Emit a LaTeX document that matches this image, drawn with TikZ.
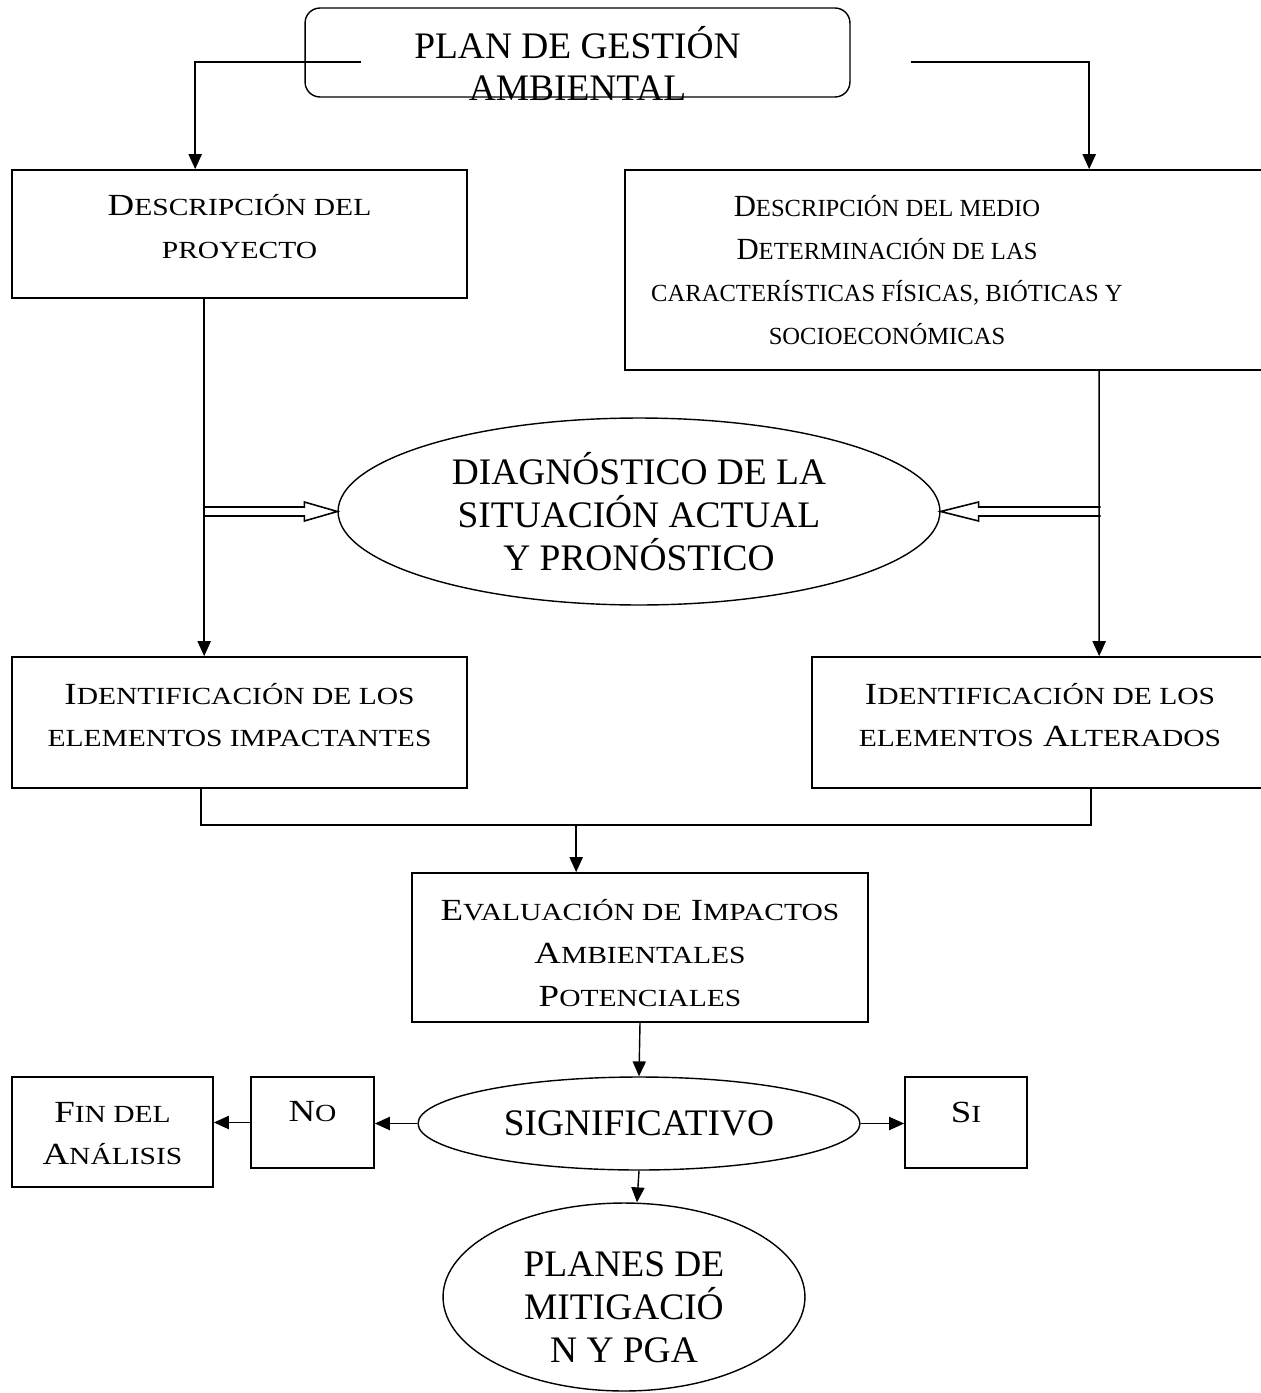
\documentclass[tikz,border=0pt]{standalone}
\usepackage{fontspec}
\setmainfont{Liberation Serif}
\newfontfamily\boxfont[FakeStretch=1.2]{Liberation Serif}
\usetikzlibrary{positioning, arrows.meta, shapes.geometric, calc}
\newcommand{\smc}[1]{{\fontsize{14}{24.4}\selectfont #1}}

\begin{document}
\begin{tikzpicture}[x=0.02cm, y=-0.02cm,
    box/.style={draw, line width=1pt, inner sep=0pt},
    boxtxt/.style={font=\boxfont\fontsize{17.5}{24.4}\selectfont, align=center,
                inner sep=0pt},
    plaintxt/.style={font=\fontsize{17.5}{24.4}\selectfont, align=center,
                inner sep=0pt},
    oval/.style={draw, ellipse, line width=0.8pt, font=\fontsize{21.3}{24.4}\selectfont,
                align=center, inner sep=0pt},
    bigtxt/.style={font=\fontsize{21.3}{24.4}\selectfont, align=center, inner sep=0pt},
    arrow/.style={-{Triangle[length=8.5pt, width=7.5pt]}, line width=0.8pt},
    link/.style={line width=0.8pt},
    hollow/.style={line width=0.9pt, line join=miter}
]
\useasboundingbox (0,0) rectangle (1261,1393);

% ---- Title ----
\node[draw, line width=0.8pt, rounded corners=0.3cm, minimum width=10.9cm,
      minimum height=1.78cm] (plan) at (577.5,52.5) {};
\node[bigtxt] (plantxt) at (577.5,63.5) {PLAN DE GESTIÓN\\AMBIENTAL};
\coordinate (tl) at ($(plan.west)+(57,9.5)$);
\coordinate (tr) at ($(plan.east)+(60,9.5)$);

% ---- Row 1: descriptions ----
\node[box, minimum width=9.1cm, minimum height=2.56cm] (desc1) at (239.5,234) {};
\node[boxtxt] (desc1txt) at (239.5,226.5) {D\smc{ESCRIPCIÓN DEL}\\\smc{PROYECTO}};
\node[box, minimum width=13cm, minimum height=4cm] (desc2) at (950,270) {};
\node[plaintxt] (desc2txt) at (887,270)
      {D\smc{ESCRIPCIÓN DEL MEDIO}\\
       D\smc{ETERMINACIÓN DE LAS}\\
       \smc{CARACTERÍSTICAS FÍSICAS, BIÓTICAS Y}\\
       \smc{SOCIOECONÓMICAS}};
\draw[arrow] (tl) -| ($(desc1.north west)+(184,0)$);
\draw[arrow] (tr) -| ($(desc2.north west)+(465,0)$);

% ---- Diagnosis ----
\node[oval, minimum width=12.04cm, minimum height=3.74cm] (diag) at (639,511.5)
      {DIAGNÓSTICO DE LA\\SITUACIÓN ACTUAL\\Y PRONÓSTICO};

% ---- Row 2: identification ----
\node[box, minimum width=9.1cm, minimum height=2.62cm] (imp) at (239.5,722.5) {};
\node[boxtxt] (imptxt) at (239.5,715)
      {I\smc{DENTIFICACIÓN DE LOS}\\\smc{ELEMENTOS IMPACTANTES}};
\node[box, minimum width=9.12cm, minimum height=2.62cm] (alt) at (1040,722.5) {};
\node[boxtxt] (alttxt) at (1040,715)
      {I\smc{DENTIFICACIÓN DE LOS}\\\smc{ELEMENTOS} A\smc{LTERADOS}};
\draw[arrow] ($(desc1.south west)+(193,0)$) -- ($(imp.north west)+(193,0)$);
\draw[arrow] ($(desc2.south west)+(475,0)$) -- ($(alt.north west)+(288,0)$);

% hollow arrows into the diagnosis
\draw[hollow] ($(diag.west)+(-133,-4.5)$) -- ++(100,0) -- ++(0,-5) -- (diag.west)
      -- ++(-33,9.5) -- ++(0,-5) -- ++(-100,0);
\draw[hollow] ($(diag.east)+(160,-4.5)$) -- ++(-122,0) -- ++(0,-5) -- (diag.east)
      -- ++(38,9.5) -- ++(0,-5) -- ++(122,0);

% ---- Evaluation ----
\node[box, minimum width=9.12cm, minimum height=2.98cm] (eval) at (640,947.5) {};
\node[boxtxt] (evaltxt) at (640,953)
      {E\smc{VALUACIÓN DE} I\smc{MPACTOS}\\A\smc{MBIENTALES}\\P\smc{OTENCIALES}};
\coordinate (join) at ($(imp.south west)+(190,36)$);
\coordinate (evtop) at ($(eval.north west)+(165,0)$);
\draw[link] ($(imp.south west)+(190,0)$) -- (join) -| ($(alt.south west)+(280,0)$);
\draw[arrow] (evtop |- join) -- (evtop);

% ---- Decision ----
\node[oval, minimum width=8.84cm, minimum height=1.86cm] (sig) at (639,1123.5)
      {SIGNIFICATIVO};
\node[box, minimum width=2.46cm, minimum height=1.82cm] (no) at (312.5,1122.5) {};
\node[boxtxt] (notxt) at (312.5,1112) {N\smc{O}};
\node[box, minimum width=4.02cm, minimum height=2.2cm] (fin) at (112.5,1132) {};
\node[boxtxt] (fintxt) at (112.5,1133.5) {F\smc{IN DEL}\\A\smc{NÁLISIS}};
\node[box, minimum width=2.44cm, minimum height=1.82cm] (si) at (966,1122.5) {};
\node[boxtxt] (sitxt) at (966,1112) {S\smc{I}};
\node[oval, minimum width=7.24cm, minimum height=3.76cm] (planes) at (624,1297) {};
\node[bigtxt] (planestxt) at (624,1307.5) {PLANES DE\\MITIGACIÓ\\N Y PGA};

\draw[arrow] (eval.south) -- (sig.north);
\draw[arrow] (sig.west) -- (sig.west -| no.east);
\draw[arrow] (no.west) -- (no.west -| fin.east);
\draw[arrow] (sig.east) -- (sig.east -| si.west);
\draw[arrow] (sig.south) -- ($(planes.north)+(13,0)$);

\end{tikzpicture}
\end{document}
